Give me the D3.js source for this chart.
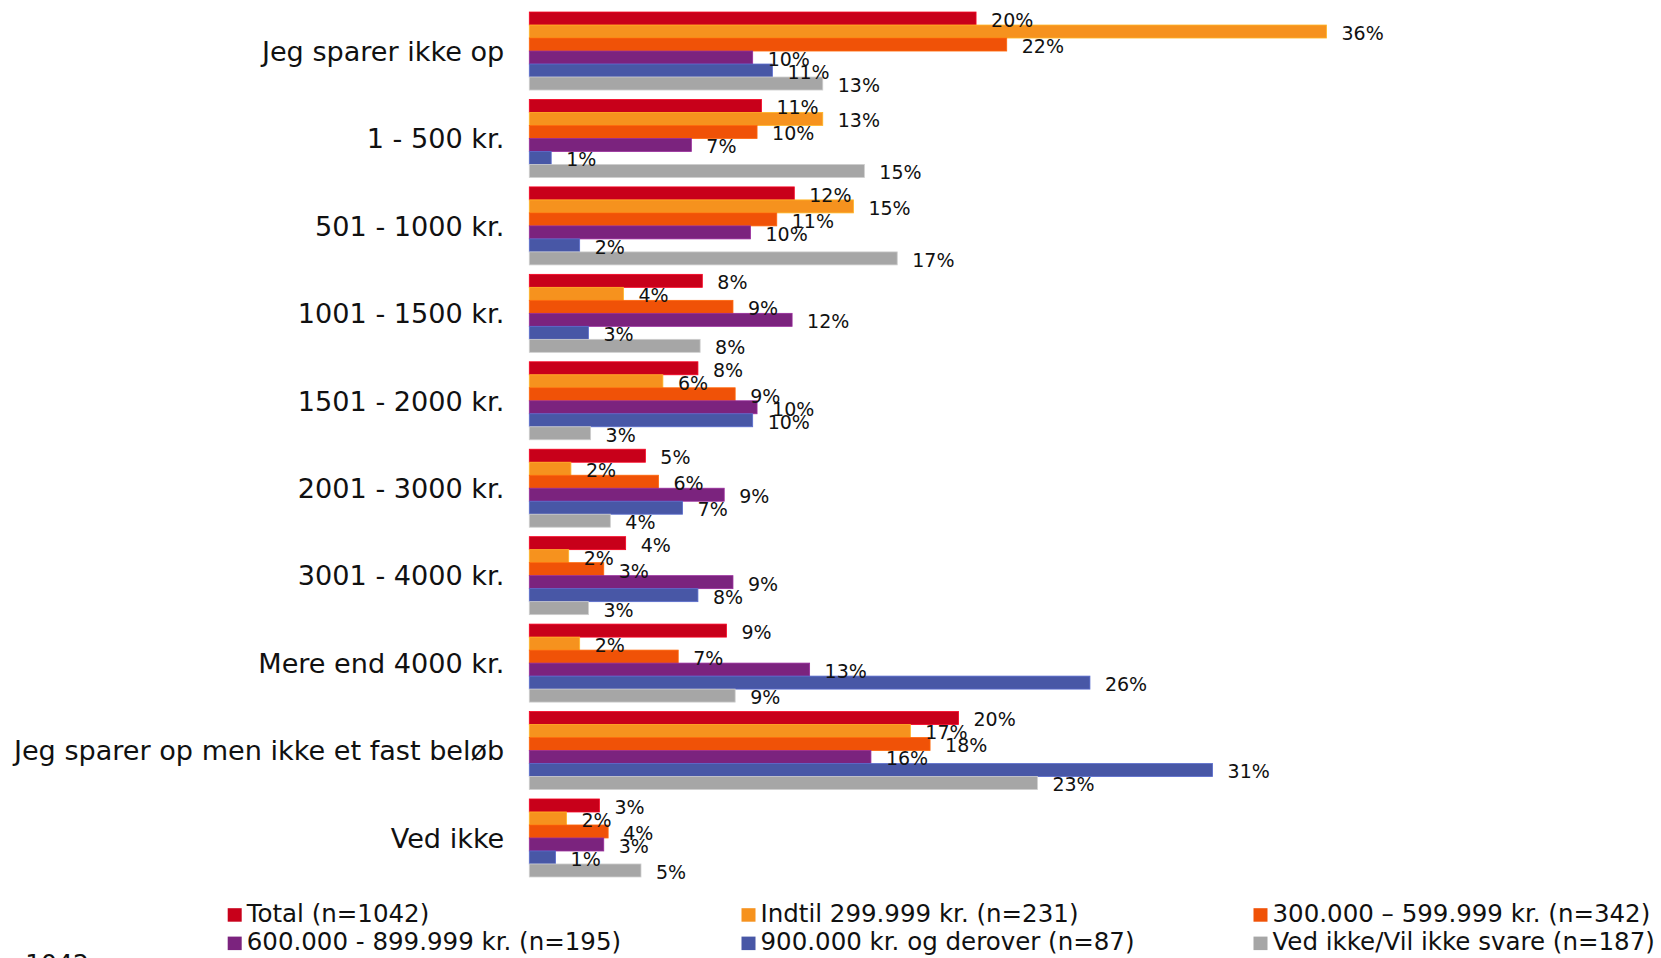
<!DOCTYPE html>
<html>
<head>
<meta charset="utf-8">
<script src="https://cdn.jsdelivr.net/npm/d3@7/dist/d3.min.js"></script>
<style>
  html, body { margin: 0; padding: 0; background: #fff; overflow: hidden; }
  svg { display: block; font-family: "DejaVu Sans", Verdana, sans-serif; }
</style>
</head>
<body>
<svg id="chart" width="1661" height="958"></svg>
<script>
// ---- Data ----
const categories = [
  "Jeg sparer ikke op",
  "1 - 500 kr.",
  "501 - 1000 kr.",
  "1001 - 1500 kr.",
  "1501 - 2000 kr.",
  "2001 - 3000 kr.",
  "3001 - 4000 kr.",
  "Mere end 4000 kr.",
  "Jeg sparer op men ikke et fast beløb",
  "Ved ikke"
];
const seriesNames = [
  "Total (n=1042)",
  "Indtil 299.999 kr. (n=231)",
  "300.000 – 599.999 kr. (n=342)",
  "600.000 - 899.999 kr. (n=195)",
  "900.000 kr. og derover (n=87)",
  "Ved ikke/Vil ikke svare (n=187)"
];
const seriesColors = ["#C8001A", "#F6921E", "#F05207", "#7B237E", "#4857A6", "#A6A6A6"];

// values in percent, one array per series, ordered as categories
const totalVals   = [20.4, 10.6, 12.1, 7.9, 7.7, 5.3, 4.4, 9.0, 19.6, 3.2];
const indtilVals  = [36.4, 13.4, 14.8, 4.3, 6.1, 1.9, 1.8, 2.3, 17.4, 1.7];
const v300Vals    = [21.8, 10.4, 11.3, 9.3, 9.4, 5.9, 3.4, 6.8, 18.3, 3.6];
const v600Vals    = [10.2, 7.4, 10.1, 12.0, 10.4, 8.9, 9.3, 12.8, 15.6, 3.4];
const v900Vals    = [11.1, 1.0, 2.3, 2.7, 10.2, 7.0, 7.7, 25.6, 31.2, 1.2];
const vedIkkeVals = [13.4, 15.3, 16.8, 7.8, 2.8, 3.7, 2.7, 9.4, 23.2, 5.1];
const seriesValues = [totalVals, indtilVals, v300Vals, v600Vals, v900Vals, vedIkkeVals];

const footnote = "n: 1042";

// ---- Layout ----
const svg = d3.select("#chart");

const x = d3.scaleLinear().domain([0, 40]).range([529.3, 529.3 + 40 * 21.9]);
const y = d3.scaleBand().domain(categories).range([7.3, 881.7])
  .paddingInner(0.108).paddingOuter(0.054);
const ySub = d3.scaleBand().domain(d3.range(seriesNames.length)).range([0, y.bandwidth()]).padding(0);

const rows = [];
categories.forEach((c, ci) => {
  seriesValues.forEach((vals, si) => {
    rows.push({ cat: c, si, v: vals[ci] });
  });
});

const g = svg.append("g");

g.selectAll("rect.bar").data(rows).enter().append("rect")
  .attr("class", "bar")
  .attr("x", x(0))
  .attr("y", d => y(d.cat) + ySub(d.si))
  .attr("width", d => x(d.v) - x(0))
  .attr("height", ySub.bandwidth())
  .attr("fill", d => seriesColors[d.si])
  .attr("stroke", d => d3.color(seriesColors[d.si]).brighter(0.6))
  .attr("stroke-width", 0.8);

const fmt = d => Math.round(d) + "%";
g.selectAll("text.val").data(rows).enter().append("text")
  .attr("class", "val")
  .attr("x", d => x(d.v) + 15)
  .attr("y", d => y(d.cat) + ySub(d.si) + ySub.bandwidth() / 2 + 8.4)
  .attr("font-size", 19)
  .attr("fill", "#111")
  .text(d => fmt(d.v));

// category axis labels
const yAxis = d3.axisLeft(y).tickSize(0).tickPadding(0);
const ax = svg.append("g").attr("transform", `translate(${x(0) - 25},0)`).call(yAxis);
ax.select(".domain").remove();
ax.selectAll("text")
  .attr("font-size", 27.1)
  .attr("font-family", "\"DejaVu Sans\", Verdana, sans-serif")
  .attr("fill", "#111")
  .attr("dy", "0.36em");

// legend
const legCols = [227.7, 741.5, 1253.5];
const legRows = [921.7, 950.1];
const leg = svg.append("g").selectAll("g").data(seriesNames).enter().append("g")
  .attr("transform", (d, i) => `translate(${legCols[i % 3]},${legRows[Math.floor(i / 3)]})`);
leg.append("rect").attr("x", 0).attr("y", -13.5).attr("width", 14).attr("height", 13.5)
  .attr("fill", (d, i) => seriesColors[i]);
leg.append("text").attr("x", 19).attr("y", 0).attr("font-size", 24.5).attr("fill", "#111")
  .text(d => d);

svg.append("text").attr("x", -7).attr("y", 972).attr("font-size", 25).attr("fill", "#111")
  .text(footnote);
</script>
</body>
</html>
